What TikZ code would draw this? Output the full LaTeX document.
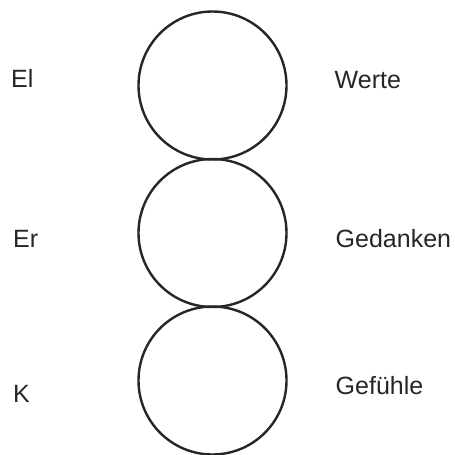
\documentclass[tikz,border=0pt]{standalone}
\usepackage{fontspec}
\setmainfont{Liberation Sans}
\begin{document}
\begin{tikzpicture}[x=1pt,y=-1pt,
  ring/.style={draw=black!85,line width=2.4pt,circle,minimum size=148pt,inner sep=0pt},
  lbl/.style={anchor=base west,inner sep=0pt,font=\fontsize{25}{25}\selectfont,text=black!85}]
\useasboundingbox[fill=white] (0,0) rectangle (455,455);
\node[ring] (c1) at (212.5,85.5) {};
\node[ring] (c2) at (212.5,233) {};
\node[ring] (c3) at (212.5,380.5) {};
\node[lbl] (el) at (11,87) {El};
\node[lbl] (er) at (13,247) {Er};
\node[lbl] (k) at (13,402) {K};
\node[lbl] (w) at (334.5,88) {Werte};
\node[lbl] (g) at (335.5,247) {Gedanken};
\node[lbl] (f) at (335.5,394) {Gefühle};
\end{tikzpicture}
\end{document}
